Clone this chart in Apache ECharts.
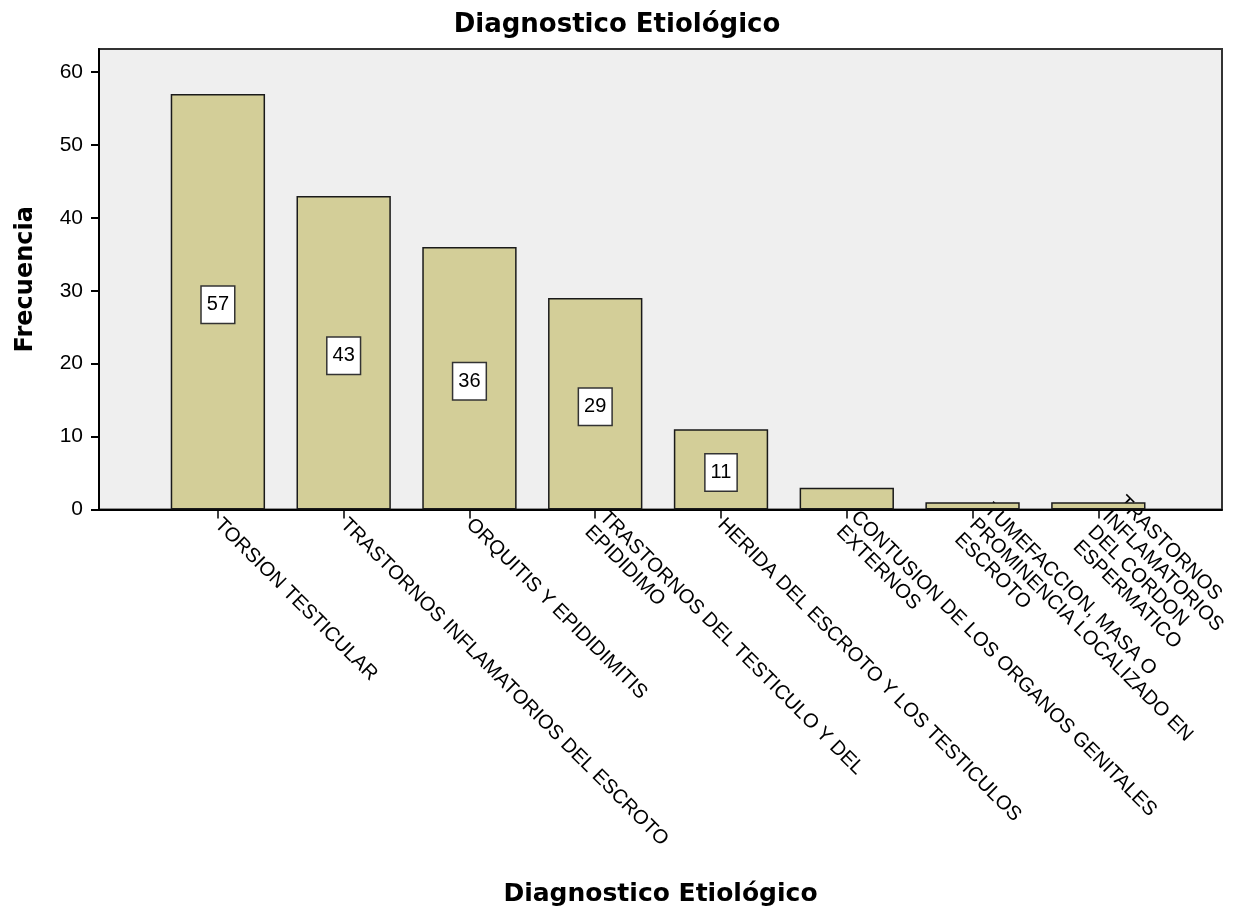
<!DOCTYPE html>
<html>
<head>
<meta charset="utf-8">
<title>Diagnostico Etiológico</title>
<script src="https://cdn.jsdelivr.net/npm/echarts@6/dist/echarts.min.js"></script>
<style>
  html, body { margin: 0; padding: 0; background: #ffffff; }
  #chart { width: 1244px; height: 917px; }
</style>
</head>
<body>
<div id="chart"></div>
<script>
// Frequency of each etiological diagnosis
const categories = [
  'TORSION TESTICULAR',
  'TRASTORNOS INFLAMATORIOS DEL ESCROTO',
  'ORQUITIS Y EPIDIDIMITIS',
  'TRASTORNOS DEL TESTICULO Y DEL\nEPIDIDIMO',
  'HERIDA DEL ESCROTO Y LOS TESTICULOS',
  'CONTUSION DE LOS ORGANOS GENITALES\nEXTERNOS',
  'TUMEFACCION, MASA O\nPROMINENCIA LOCALIZADO EN\nESCROTO',
  'TRASTORNOS\nINFLAMATORIOS\nDEL CORDON\nESPERMATICO'
];
const frequencies = [57, 43, 36, 29, 11, 3, 1, 1];

const chartTitle = 'Diagnostico Etiológico';
const xAxisTitle = 'Diagnostico Etiológico';
const yAxisTitle = 'Frecuencia';

const LABEL_FONT = '"Liberation Sans", Arial, sans-serif';
const TITLE_FONT = '"DejaVu Sans", "Liberation Sans", sans-serif';

// short bars are too small to hold a value box
const barData = frequencies.map(v => ({
  value: v,
  label: { show: v >= 10 }
}));

const chart = echarts.init(document.getElementById('chart'), null, { renderer: 'canvas' });

chart.setOption({
  backgroundColor: '#ffffff',
  animation: false,
  title: {
    text: chartTitle,
    left: 612,
    top: 7,
    textAlign: 'center',
    textStyle: { fontFamily: TITLE_FONT, fontWeight: 'bold', fontSize: 26, color: '#000' }
  },
  grid: [
    // outer frame with grey plot background
    { left: 99, right: 22, top: 49, bottom: 407.5, show: true,
      backgroundColor: '#efefef', borderColor: '#333333', borderWidth: 2 },
    // category band area holding the bars
    { left: 155, right: 77, top: 72, bottom: 407.5 },
    // frequency scale
    { left: 99, right: 22, top: 72, bottom: 407.5 }
  ],
  xAxis: [
    {
      gridIndex: 0, type: 'value', min: 0, max: 1,
      axisLine: { show: true, lineStyle: { color: '#000', width: 2 } },
      axisTick: { show: false }, axisLabel: { show: false }, splitLine: { show: false },
      name: xAxisTitle, nameLocation: 'middle', nameGap: 372,
      nameTextStyle: { fontFamily: TITLE_FONT, fontWeight: 'bold', fontSize: 25, color: '#000' }
    },
    {
      gridIndex: 1, type: 'category', data: categories,
      axisLine: { show: true, lineStyle: { color: '#000', width: 2 } },
      axisTick: { show: true, alignWithLabel: true, length: 9, lineStyle: { color: '#000', width: 1.5 } },
      axisLabel: {
        interval: 0, rotate: -45, margin: 12,
        fontFamily: LABEL_FONT, fontSize: 20, lineHeight: 21, color: '#000'
      },
      splitLine: { show: false }
    },
    {
      gridIndex: 2, type: 'value', min: 0, max: 1, show: false
    }
  ],
  yAxis: [
    {
      gridIndex: 0, type: 'value', min: 0, max: 1,
      axisLine: { show: true, lineStyle: { color: '#000', width: 2 } },
      axisTick: { show: false }, axisLabel: { show: false }, splitLine: { show: false },
      name: yAxisTitle, nameLocation: 'middle', nameGap: 61, nameRotate: 90,
      nameTextStyle: { fontFamily: TITLE_FONT, fontWeight: 'bold', fontSize: 24, color: '#000' }
    },
    {
      gridIndex: 1, type: 'value', min: 0, max: 60, show: false
    },
    {
      gridIndex: 2, type: 'value', min: 0, max: 60, interval: 10,
      axisLine: { show: true, lineStyle: { color: '#000', width: 2 } },
      axisTick: { show: true, length: 8, lineStyle: { color: '#000', width: 2 } },
      axisLabel: { margin: 16, fontFamily: LABEL_FONT, fontSize: 21, color: '#000' },
      splitLine: { show: false }
    }
  ],
  series: [
    {
      type: 'bar',
      xAxisIndex: 1,
      yAxisIndex: 1,
      data: barData,
      barWidth: '75%',
      itemStyle: { color: '#d3ce98', borderColor: '#1a1a1a', borderWidth: 1.5 },
      label: {
        position: 'inside',
        offset: [0, 3],
        fontFamily: LABEL_FONT,
        fontSize: 20,
        lineHeight: 20,
        color: '#000',
        backgroundColor: '#ffffff',
        borderColor: '#333',
        borderWidth: 1.5,
        padding: [8, 5, 8, 5]
      }
    }
  ]
});
</script>
</body>
</html>
